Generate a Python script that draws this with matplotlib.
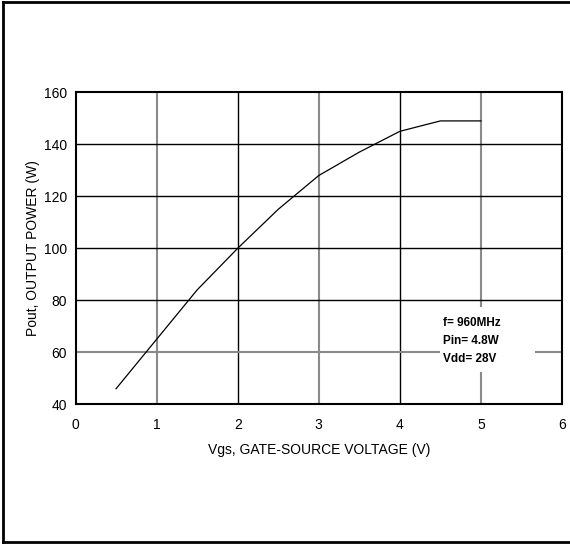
import matplotlib.pyplot as plt
from matplotlib.lines import Line2D
from matplotlib.patches import Rectangle

plt.rcParams['font.family'] = ['Liberation Sans', 'DejaVu Sans']

vgs = [0.5, 1.0, 1.5, 2.0, 2.5, 3.0, 3.5, 4.0, 4.5, 5.0]
pout = [46, 65, 84, 100, 115, 128, 137, 145, 149, 149]
xticks = [0, 1, 2, 3, 4, 5, 6]
yticks = [40, 60, 80, 100, 120, 140, 160]
gray_x = [1, 3, 5]
gray_y = [60]

fig = plt.figure(figsize=(5.7, 5.44), dpi=100)
ax = fig.add_axes([0.1325, 0.2568, 0.8535, 0.5735])

# grid: odd volt lines and 60 W line in gray, rest black
for x in xticks[1:-1]:
    if x in gray_x:
        ax.axvline(x, color='#8a8a8a', lw=1.5, zorder=1)
    else:
        ax.axvline(x, color='black', lw=1.0, zorder=1)
for y in yticks[1:-1]:
    if y in gray_y:
        ax.axhline(y, color='#8a8a8a', lw=1.5, zorder=1)
    else:
        ax.axhline(y, color='black', lw=1.0, zorder=1)

ax.plot(vgs, pout, color='black', lw=0.9, zorder=3)

ax.set_xlim(0, 6)
ax.set_ylim(40, 160)
ax.set_xticks(xticks)
ax.set_yticks(yticks)
ax.tick_params(length=0, labelsize=10)
ax.tick_params(axis='x', pad=10)
ax.tick_params(axis='y', pad=6)
for s in ax.spines.values():
    s.set_linewidth(1.5)

ax.set_xlabel('Vgs, GATE-SOURCE VOLTAGE (V)', fontsize=10, labelpad=8)
ax.set_ylabel('Pout, OUTPUT POWER (W)', fontsize=10, labelpad=3)

# white box behind the conditions note
ax.add_patch(Rectangle((4.49, 52.4), 1.18, 25.0, facecolor='white',
                       edgecolor='none', zorder=2))
ax.text(4.53, 64.3, 'f= 960MHz\nPin= 4.8W\nVdd= 28V', fontsize=8.5,
        fontweight='bold', ha='left', va='center', linespacing=1.7,
        zorder=4)

# outer frame
fig.add_artist(Line2D([0.006, 0.006], [0.004, 0.996], color='black', lw=2, transform=fig.transFigure))
fig.add_artist(Line2D([0.006, 1.0], [0.996, 0.996], color='black', lw=2, transform=fig.transFigure))
fig.add_artist(Line2D([0.006, 1.0], [0.004, 0.004], color='black', lw=2, transform=fig.transFigure))

fig.savefig('out.png', dpi=100)
